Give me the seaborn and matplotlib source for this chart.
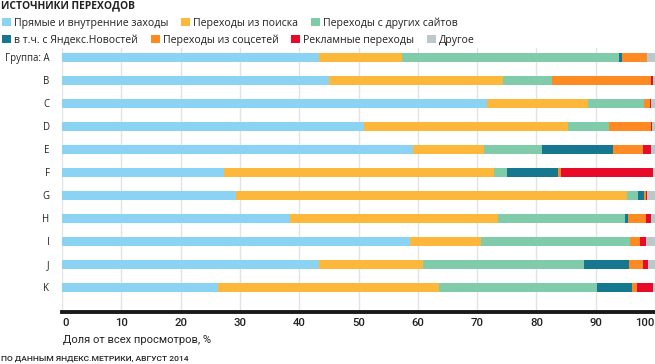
import numpy as np
import pandas as pd
import matplotlib.pyplot as plt
import seaborn as sns
from matplotlib.patches import Patch

# values, % of all views
groups = ['Группа: A', 'B', 'C', 'D', 'E', 'F', 'G', 'H', 'I', 'J', 'K']
direct = [43.4, 45.1, 71.7, 51.0, 59.2, 27.3, 29.3, 38.5, 58.7, 43.4, 26.3]
search = [14.0, 29.3, 17.0, 34.4, 11.9, 45.6, 65.9, 35.1, 12.0, 17.5, 37.3]
other_sites = [36.5, 8.3, 9.4, 6.8, 9.9, 2.2, 1.9, 21.4, 25.0, 27.2, 26.6]
news = [0.6, 0.0, 0.0, 0.0, 12.0, 8.6, 1.0, 0.4, 0.0, 7.5, 5.9]
social = [4.1, 16.6, 1.0, 7.1, 4.9, 0.5, 0.4, 3.0, 1.7, 2.3, 0.8]
ads = [0.0, 0.3, 0.3, 0.2, 1.4, 15.4, 0.2, 0.9, 1.0, 1.0, 2.7]
other = [1.4, 0.4, 0.6, 0.5, 0.7, 0.4, 1.3, 0.7, 1.6, 1.1, 0.4]

series_names = ['Прямые и внутренние заходы', 'Переходы из поиска', 'Переходы с других сайтов',
                'в т.ч. с Яндекс.Новостей', 'Переходы из соцсетей', 'Рекламные переходы', 'Другое']
colors = ['#8AD3F2', '#FDB73A', '#80CBA9', '#15788F', '#FD8A22', '#E80A28', '#BEC8CA']

df = pd.DataFrame({'group': groups})
for name, vals in zip(series_names, [direct, search, other_sites, news, social, ads, other]):
    df[name] = vals
# normalise so that every row sums to 100
tot = df[series_names].sum(axis=1)
for name in series_names:
    df[name] = df[name] / tot * 100
cum = df[series_names].cumsum(axis=1)

sns.set_style('white')
plt.rcParams['font.family'] = ['Open Sans', 'DejaVu Sans']
txt_col = '#222222'

fig = plt.figure(figsize=(6.55, 3.64), dpi=100)
ax = fig.add_axes([62 / 655, 1 - 312 / 364, 593 / 655, 263.7 / 364])

# stacked bars: draw cumulative totals from the longest down
for name, col in reversed(list(zip(series_names, colors))):
    sns.barplot(x=cum[name], y=df['group'], color=col, orient='h', width=0.39,
                ax=ax, saturation=1, linewidth=0)

ax.set_xlim(0, 100)
ax.set_ylim(11.07, -0.4)
ax.set_xticks(range(0, 101, 10))
ax.xaxis.grid(True, color='#e3e3e3', linewidth=1)
ax.set_axisbelow(True)
for s in ['top', 'right', 'left']:
    ax.spines[s].set_visible(False)
ax.spines['bottom'].set_linewidth(2.8)
ax.spines['bottom'].set_color('#1a1a1a')
ax.tick_params(axis='x', length=0, pad=4)
ax.tick_params(axis='y', length=0, pad=9)
xlabels = ax.get_xticklabels()
for lbl in xlabels:
    lbl.set_family(['Roboto', 'DejaVu Sans'])
    lbl.set_fontsize(8.2)
    lbl.set_fontweight('medium')
    lbl.set_color(txt_col)
xlabels[0].set_ha('left')
xlabels[-1].set_ha('right')
for lbl in ax.get_yticklabels():
    lbl.set_fontsize(6.9)
    lbl.set_color(txt_col)
ax.set_ylabel('')
ax.set_xlabel('')

fig.text(63 / 655, 1 - 340 / 364, 'Доля от всех просмотров, %', fontsize=8,
         color=txt_col, va='center', ha='left', family=['Roboto', 'DejaVu Sans'])
fig.text(1 / 655, 1 - 359 / 364, 'ПО ДАННЫМ ЯНДЕКС.МЕТРИКИ, АВГУСТ 2014', fontsize=6.1,
         fontweight='medium', color=txt_col, va='center', ha='left',
         family=['Roboto', 'DejaVu Sans'])
fig.text(1 / 655, 1 - 6 / 364, 'ИСТОЧНИКИ ПЕРЕХОДОВ', fontsize=7.4, fontweight='bold',
         color=txt_col, va='center', ha='left')

handles = [Patch(facecolor=c, edgecolor='none', label=n) for n, c in zip(series_names, colors)]
leg_kw = dict(frameon=False, fontsize=7.6, handlelength=0.85, handleheight=0.85,
              handletextpad=0.3, columnspacing=1.2, borderpad=0, borderaxespad=0,
              loc='center left', labelcolor=txt_col)
fig.legend(handles=handles[:3], ncol=3, bbox_to_anchor=(2 / 655, 1 - 23 / 364), **leg_kw)
fig.legend(handles=handles[3:], ncol=4, bbox_to_anchor=(2 / 655, 1 - 40 / 364), **leg_kw)

fig.savefig('out.png', dpi=100)
